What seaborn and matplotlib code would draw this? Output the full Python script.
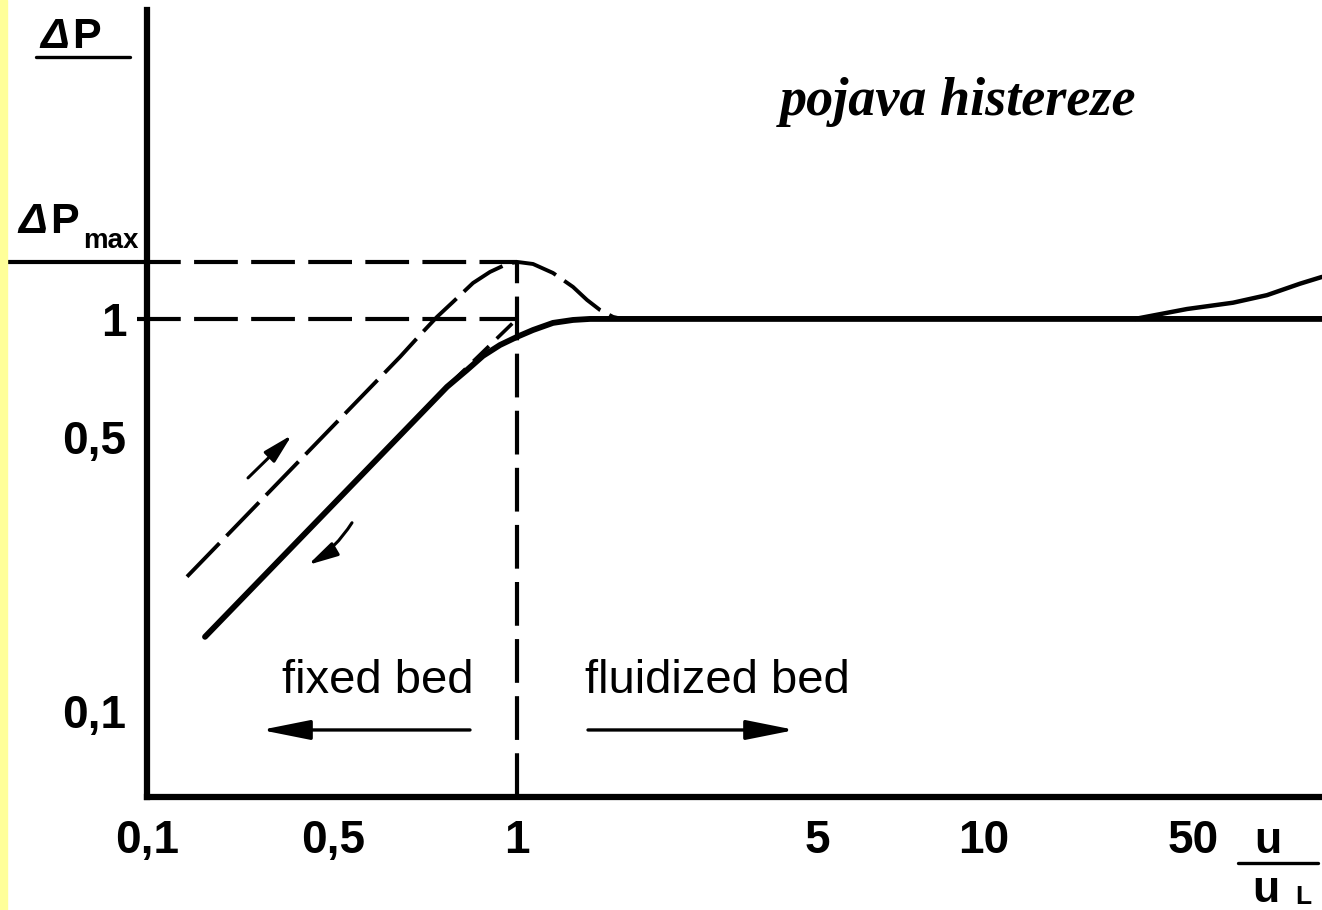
import matplotlib.pyplot as plt
import seaborn as sns
from matplotlib.lines import Line2D
from matplotlib.patches import Rectangle
from matplotlib.ticker import NullLocator, NullFormatter

sns.set_style("white")
plt.rcParams['font.family'] = ['Liberation Sans', 'DejaVu Sans']
plt.rcParams['text.color'] = 'black'
plt.rcParams['xtick.color'] = 'black'
plt.rcParams['ytick.color'] = 'black'

# ===============================
# Data (schematic x axis: position along axis, y: dP/dPmax on log scale)
# ===============================
xtick_pos = [0.0, 1.86, 3.70, 6.70, 8.37, 10.46]
xtick_labels = ['0,1', '0,5', '1', '5', '10', '50']
ytick_vals = [0.1, 0.5, 1]
ytick_labels = ['0,1', '0,5', '1']

x_one = 3.70       # u/uL = 1
dp_max = 1.398     # dP max / dP

# decreasing velocity (solid curve)
x_down = [0.58, 3.00, 3.20, 3.36, 3.53, 3.70, 3.86, 4.06, 4.26, 4.43, 11.75]
y_down = [0.1545, 0.671, 0.741, 0.805, 0.858, 0.900, 0.937, 0.977, 0.994, 1.0, 1.0]

# increasing velocity (dashed curve, overshoot to dP max)
x_up = [0.40, 2.53, 2.73, 2.90, 3.06, 3.26, 3.43, 3.60, 3.70, 3.86,
        4.06, 4.26, 4.40, 4.53, 4.66, 4.75]
y_up = [0.220, 0.800, 0.910, 1.012, 1.105, 1.235, 1.318, 1.381, 1.398, 1.381,
        1.310, 1.207, 1.118, 1.054, 1.012, 1.0]

# rise at high velocity
x_high = [9.88, 10.40, 10.86, 11.20, 11.53, 11.75]
y_high = [1.0, 1.06, 1.10, 1.15, 1.23, 1.28]

# dashed extension of the straight part to (1, 1)
x_ext = [3.03, 3.70]
y_ext = [0.683, 1.0]

# ===============================
# Figure
# ===============================
W, H = 1322, 910
fig = plt.figure(figsize=(W / 100, H / 100), dpi=100)
fig.patch.set_facecolor('white')
fig.patches.append(Rectangle((0, 0), 7 / W, 1, transform=fig.transFigure,
                             color='#ffff99', zorder=0))

ax = fig.add_axes([147 / W, 1 - 797 / H, (W - 147) / W, (797 - 10) / H])
ax.set_yscale('log')
ax.set_xlim(0, 11.75)
ax.set_ylim(0.0603, 6.14)

ref_ls = (0, (10.5, 3.2))
curve_ls = (0, (12, 2.6))

# reference lines
ax.plot([-0.10, x_one], [dp_max, dp_max], color='black', lw=3, ls=ref_ls, clip_on=False)
ax.plot([-0.10, x_one], [1, 1], color='black', lw=3, ls=ref_ls, clip_on=False)
ax.plot([x_one, x_one], [0.0603, dp_max], color='black', lw=3, ls=ref_ls)
ax.plot([-1.40, -0.10], [dp_max, dp_max], color='black', lw=3, clip_on=False)

# curves
sns.lineplot(x=x_down, y=y_down, ax=ax, color='black', lw=4.2, sort=False,
             solid_joinstyle='round', solid_capstyle='round')
sns.lineplot(x=x_up, y=y_up, ax=ax, color='black', lw=2.8, ls=curve_ls, sort=False,
             dash_joinstyle='round')
sns.lineplot(x=x_high, y=y_high, ax=ax, color='black', lw=3.2, sort=False,
             solid_joinstyle='round')
sns.lineplot(x=x_ext, y=y_ext, ax=ax, color='black', lw=2.6, ls=(0, (6, 3)), sort=False)

# small direction arrows
small_head = '-|>,head_length=1.8,head_width=0.45'
ax.annotate('', xy=(1.45, 0.506), xytext=(1.01, 0.393),
            arrowprops=dict(arrowstyle=small_head, mutation_scale=10, color='black',
                            lw=2.2, shrinkA=0, shrinkB=0))
ax.annotate('', xy=(1.61, 0.2357), xytext=(2.05, 0.302),
            arrowprops=dict(arrowstyle=small_head, mutation_scale=10, color='black',
                            lw=2.2, shrinkA=0, shrinkB=0,
                            connectionstyle='arc3,rad=-0.12'))

# regime arrows and labels
big_head = '-|>,head_length=3.0,head_width=0.6'
ax.annotate('', xy=(1.14, 0.0894), xytext=(3.23, 0.0894),
            arrowprops=dict(arrowstyle=big_head, mutation_scale=10, color='black',
                            lw=2.4, shrinkA=0, shrinkB=0))
ax.annotate('', xy=(6.48, 0.0894), xytext=(4.41, 0.0894),
            arrowprops=dict(arrowstyle=big_head, mutation_scale=10, color='black',
                            lw=2.4, shrinkA=0, shrinkB=0))
ax.text(2.31, 0.111, 'fixed bed', fontsize=34, ha='center', va='baseline')
ax.text(5.70, 0.111, 'fluidized bed', fontsize=34, ha='center', va='baseline')

ax.text(8.11, 3.314, 'pojava histereze', fontsize=39, ha='center', va='baseline',
        family=['Liberation Serif', 'DejaVu Serif'], weight='bold', style='italic')

# axes styling
for side in ['top', 'right']:
    ax.spines[side].set_visible(False)
for side in ['left', 'bottom']:
    ax.spines[side].set_linewidth(4.5)
    ax.spines[side].set_color('black')

ax.set_xticks(xtick_pos, xtick_labels)
ax.set_yticks(ytick_vals, ytick_labels)
ax.yaxis.set_minor_locator(NullLocator())
ax.yaxis.set_minor_formatter(NullFormatter())
ax.tick_params(axis='x', length=0, pad=16, labelsize=33)
ax.tick_params(axis='y', length=0, pad=15, labelsize=33)
for lab in ax.get_xticklabels() + ax.get_yticklabels():
    lab.set_fontweight('bold')

# y-axis label: dP / dP max
fig.text(40 / W, 1 - 48 / H, '\u0394', fontsize=31, weight='bold', style='italic')
fig.text(72 / W, 1 - 48 / H, 'P', fontsize=31, weight='bold')
fig.add_artist(Line2D([36 / W, 130 / W], [1 - 57 / H, 1 - 57 / H], color='black', lw=2.4))
fig.text(18 / W, 1 - 233 / H, '\u0394', fontsize=31, weight='bold', style='italic')
fig.text(50 / W, 1 - 233 / H, 'P', fontsize=31, weight='bold')
fig.text(83 / W, 1 - 248 / H, 'max', fontsize=20, weight='bold')

# x-axis label: u / uL
fig.text(1268 / W, 1 - 853 / H, 'u', fontsize=32, weight='bold', ha='center')
fig.add_artist(Line2D([1238 / W, 1318 / W], [1 - 863 / H, 1 - 863 / H], color='black', lw=2.4))
fig.text(1266 / W, 1 - 902 / H, 'u', fontsize=32, weight='bold', ha='center')
fig.text(1295 / W, 1 - 904 / H, 'L', fontsize=19, weight='bold')

fig.savefig('out.png', dpi=100)
